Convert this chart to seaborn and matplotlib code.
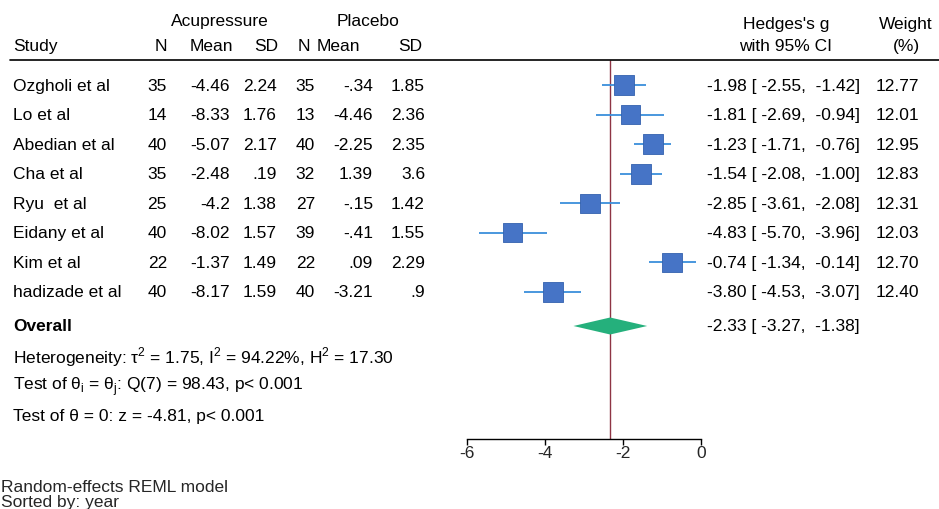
import numpy as np
import pandas as pd
import matplotlib.pyplot as plt
from matplotlib.transforms import blended_transform_factory
import seaborn as sns

# study data
studies = ['Ozgholi et al', 'Lo et al', 'Abedian et al', 'Cha et al',
           'Ryu  et al', 'Eidany et al', 'Kim et al', 'hadizade et al']
acu_n = [35, 14, 40, 35, 25, 40, 22, 40]
acu_mean = [-4.46, -8.33, -5.07, -2.48, -4.2, -8.02, -1.37, -8.17]
acu_sd = [2.24, 1.76, 2.17, 0.19, 1.38, 1.57, 1.49, 1.59]
pla_n = [35, 13, 40, 32, 27, 39, 22, 40]
pla_mean = [-0.34, -4.46, -2.25, 1.39, -0.15, -0.41, 0.09, -3.21]
pla_sd = [1.85, 2.36, 2.35, 3.6, 1.42, 1.55, 2.29, 0.9]
hedges_g = [-1.98, -1.81, -1.23, -1.54, -2.85, -4.83, -0.74, -3.80]
ci_low = [-2.55, -2.69, -1.71, -2.08, -3.61, -5.70, -1.34, -4.53]
ci_high = [-1.42, -0.94, -0.76, -1.00, -2.08, -3.96, -0.14, -3.07]
weight = [12.77, 12.01, 12.95, 12.83, 12.31, 12.03, 12.70, 12.40]
overall = [-2.33, -3.27, -1.38]
x_ticks = [-6, -4, -2, 0]

df = pd.DataFrame({'study': studies, 'g': hedges_g, 'lo': ci_low,
                   'hi': ci_high, 'w': weight})
df['row'] = np.arange(len(df))
overall_row = 8.15

sns.set_theme(style='white')
plt.rcParams['font.family'] = ['Liberation Sans', 'DejaVu Sans']
plt.rcParams['mathtext.fontset'] = 'custom'
plt.rcParams['mathtext.rm'] = 'Liberation Sans'
fs = 12.5

W, H = 939, 510
fig = plt.figure(figsize=(W / 100, H / 100), dpi=100)
fig.patch.set_facecolor('white')

# pixel layout: row 0 at y=86, step 29.57, axis line at y=440
step = 29.57
def r(ypix):
    return (ypix - 86) / step

ax = fig.add_axes([467 / W, (H - 440) / H, 234 / W, 440 / H])
ax.set_xlim(-6, 0)
ax.set_ylim(r(440), r(0))
ax.set_facecolor('none')
for s in ['left', 'top', 'right']:
    ax.spines[s].set_visible(False)
ax.spines['bottom'].set_color('black')
ax.spines['bottom'].set_linewidth(1)
ax.set_xticks(x_ticks)
ax.set_xticklabels([str(t) for t in x_ticks])
ax.tick_params(axis='x', direction='out', length=4, width=1, color='black',
               labelsize=fs, pad=0.5, bottom=True)
ax.set_yticks([])

# reference line at overall estimate
ax.vlines(overall[0], r(61), r(440), color='#8E3444', lw=1, zorder=1)

# confidence intervals and squares
ax.hlines(df['row'], df['lo'], df['hi'], color='#3A8FDB', lw=1.3, zorder=2)
k = 200 / 12.5
sns.scatterplot(data=df, x='g', y='row', size='w',
                sizes=(k * df['w'].min(), k * df['w'].max()),
                marker='s', color='#4674C6', edgecolor='#3461AE',
                linewidth=0.6, legend=False, ax=ax, zorder=3)
ax.set_xlabel('')
ax.set_ylabel('')

# overall diamond
h = 8.5 / step
ax.fill([overall[1], overall[0], overall[2], overall[0]],
        [overall_row, overall_row - h, overall_row, overall_row + h],
        color='#25B07C', lw=0, zorder=3)

# text columns
tr = blended_transform_factory(fig.transFigure, ax.transData)
def txt(xpix, row, s, ha='left', **kw):
    ax.text(xpix / W, row, s, transform=tr, ha=ha, va='center',
            fontsize=fs, color='black', clip_on=False, **kw)

def fmt(v):
    s = f'{v:g}'
    return s.replace('-0.', '-.') if s.startswith('-0.') else (s[1:] if s.startswith('0.') else s)

txt(220, r(21), 'Acupressure', ha='center')
txt(368, r(21), 'Placebo', ha='center')
txt(13, r(46), 'Study')
for xp, lab in zip([167, 233, 278, 310, 360, 422],
                   ['N', 'Mean', 'SD', 'N', 'Mean', 'SD']):
    txt(xp, r(46), lab, ha='right')
txt(786, r(24), "Hedges's g", ha='center')
txt(786, r(46), 'with 95% CI', ha='center')
txt(933, r(24), 'Weight', ha='right')
txt(906, r(46), '(%)', ha='center')

fig.add_artist(plt.Line2D([10 / W, 1], [1 - 61 / H, 1 - 61 / H],
                          transform=fig.transFigure, color='black', lw=1.2))

for i in range(len(studies)):
    txt(13, i, studies[i])
    txt(167, i, str(acu_n[i]), ha='right')
    txt(230, i, fmt(acu_mean[i]), ha='right')
    txt(277, i, fmt(acu_sd[i]), ha='right')
    txt(315, i, str(pla_n[i]), ha='right')
    txt(373, i, fmt(pla_mean[i]), ha='right')
    txt(425, i, fmt(pla_sd[i]), ha='right')
    txt(707, i, f'{hedges_g[i]:.2f} [ {ci_low[i]:.2f},  {ci_high[i]:.2f}]')
    txt(919, i, f'{weight[i]:.2f}', ha='right')

txt(13, overall_row, 'Overall', fontweight='bold')
txt(707, overall_row, f'{overall[0]:.2f} [ {overall[1]:.2f},  {overall[2]:.2f}]')
txt(13, r(357), r'Heterogeneity: τ$^\mathregular{2}$ = 1.75, I$^\mathregular{2}$ = 94.22%, H$^\mathregular{2}$ = 17.30')
txt(13, r(387), r'Test of θ$_\mathregular{i}$ = θ$_\mathregular{j}$: Q(7) = 98.43, p< 0.001')
txt(13, r(416), 'Test of θ = 0: z = -4.81, p< 0.001')

fig.text(1 / W, 1 - 487 / H, 'Random-effects REML model', fontsize=fs, va='center')
fig.text(1 / W, 1 - 503 / H, 'Sorted by: year', fontsize=fs, va='center')

fig.savefig('out.png', dpi=100, facecolor='white')
